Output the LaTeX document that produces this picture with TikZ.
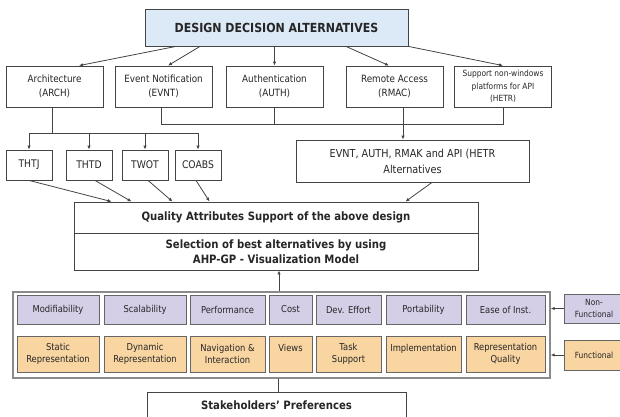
\documentclass[tikz,border=0pt]{standalone}
\usepackage{fontspec}
\setmainfont[FakeStretch=0.88]{DejaVu Sans}
\usetikzlibrary{arrows.meta}
\definecolor{hdblue}{HTML}{DCEAF7}
\definecolor{nfpurple}{HTML}{D5CEE7}
\definecolor{fnorange}{HTML}{F9D5A2}
\definecolor{lineg}{HTML}{444444}
\definecolor{panelg}{HTML}{8A8A8A}
\begin{document}
\begin{tikzpicture}[x=1pt,y=-1pt,
    box/.style = {draw=lineg, line width=0.8pt, inner sep=0pt, align=center, text=black!85},
    rowbox/.style = {box, minimum width=97pt, minimum height=41pt, font=\fontsize{10}{14}\selectfont},
    thbox/.style = {box, minimum width=46pt, minimum height=30pt, font=\fontsize{10.5}{13}\selectfont},
    qabox/.style = {box, draw=gray!80!black, minimum height=29pt, fill=nfpurple, font=\fontsize{9.5}{12}\selectfont},
    fnbox/.style = {box, draw=gray!80!black, minimum height=36pt, fill=fnorange, font=\fontsize{9.5}{12}\selectfont},
    arrow/.style = {line width=0.8pt, draw=lineg, -{Latex[length=4pt,width=3.4pt]}},
    link/.style = {line width=0.8pt, draw=lineg}]
  \path[use as bounding box, clip] (0,0) rectangle (620,416);

  % design decisions
  \node[box, fill=hdblue, minimum width=263pt, minimum height=37pt, font=\bfseries\fontsize{12.5}{15}\selectfont] (top) at (276.5,27.5) {DESIGN DECISION ALTERNATIVES};
  \node[rowbox] (arch) at (54.5,86.5) {Architecture\\(ARCH)};
  \node[rowbox] (evnt) at (163.5,86.5) {Event Notification\\(EVNT)};
  \node[rowbox] (auth) at (274.5,86.5) {Authentication\\(AUTH)};
  \node[rowbox] (rmac) at (394.5,86.5) {Remote Access\\(RMAC)};
  \node[rowbox, font=\fontsize{8.5}{12.5}\selectfont] (hetr) at (503,86.5) {Support non-windows\\platforms for API\\(HETR)};

  \draw[arrow] ([xshift=-100.5pt]top.south) -- ([xshift=24.5pt]arch.north);
  \draw[arrow] ([xshift=-76.5pt]top.south) -- ([xshift=4.5pt]evnt.north);
  \draw[arrow] (top.south -| auth.north) -- (auth.north);
  \draw[arrow] ([xshift=69.5pt]top.south) -- ([xshift=-5.5pt]rmac.north);
  \draw[arrow] (top.south east) -- (hetr.north);

  % architecture alternatives
  \node[thbox] (thtj) at (29,165) {THTJ};
  \node[thbox] (thtd) at (89,165) {THTD};
  \node[thbox] (twot) at (145,165) {TWOT};
  \node[thbox] (coabs) at (198,165) {COABS};
  \coordinate (archbus) at (52,133);
  \draw[link] ([xshift=-2.5pt]arch.south) -- (archbus);
  \draw[link] (archbus -| thtj) -- (archbus -| coabs);
  \foreach \n in {thtj,thtd,twot,coabs}
    \draw[arrow] (archbus -| \n) -- (\n.north);

  \node[box, minimum width=233pt, minimum height=42pt, font=\fontsize{11}{16}\selectfont] (alt) at (412.5,161) {EVNT, AUTH, RMAK and API (HETR\\Alternatives};
  \coordinate (altbus) at (161,124);
  \draw[link] ([xshift=-2.5pt]evnt.south) -- (altbus) -- (altbus -| hetr) -- (hetr.south);
  \draw[link] (auth.south) -- (auth.south |- altbus);
  \draw[arrow] ([xshift=8.5pt]rmac.south) -- ([xshift=8.5pt]rmac.south |- alt.north);

  % quality attributes and selection
  \node[box, minimum width=404pt, minimum height=31pt, font=\bfseries\fontsize{11.5}{14}\selectfont] (qas) at (276,217.5) {Quality Attributes Support of the above design};
  \node[box, minimum width=404pt, minimum height=37pt, font=\bfseries\fontsize{11.5}{14.5}\selectfont] (sel) at (276,251.5) {Selection of best alternatives by using\\AHP-GP - Visualization Model};
  \draw[arrow] (thtj.south) -- ([xshift=38pt]qas.north west);
  \draw[arrow] ([xshift=6pt]thtd.south) -- ([xshift=58pt]qas.north west);
  \draw[arrow] ([xshift=3pt]twot.south) -- ([xshift=99pt]qas.north west);
  \draw[arrow] ([xshift=-2pt]coabs.south) -- ([xshift=136pt]qas.north west);
  \draw[arrow] ([xshift=19.5pt]alt.south) -- ([xshift=-73pt]qas.north east);

  % criteria panel
  \node[draw=panelg, line width=1.4pt, minimum width=537pt, minimum height=86pt, inner sep=0pt] (panel) at (281.5,335) {};
  \foreach \cx/\w/\lbl [count=\i] in {58/82/Modifiability, 145/82/Scalability, 227.5/75/Performance, 290.5/43/Cost, 348.5/65/Dev. Effort, 423.5/75/Portability, 505.5/79/Ease of Inst.}
    \node[qabox, minimum width=\w] (q\i) at (\cx,309.5) {\lbl};
  \foreach \cx/\w/\lbl [count=\i] in {58/82/{Static\\Representation}, 145/82/{Dynamic\\Representation}, 227.5/75/{Navigation \&\\Interaction}, 290.5/43/{Views\\\mbox{}}, 348.5/65/{Task\\Support}, 423.5/75/{Implementation\\\mbox{}}, 505.5/79/{Representation\\Quality}}
    \node[fnbox, minimum width=\w] (f\i) at (\cx,354) {\lbl};

  \node[qabox, minimum width=60pt, font=\fontsize{8.5}{12}\selectfont] (nonf) at (594,308.5) {Non-\\Functional};
  \node[fnbox, minimum width=60pt, minimum height=30pt, font=\fontsize{8.5}{12}\selectfont] (func) at (594,355) {Functional};
  \draw[arrow] (nonf.west) -- (nonf.west -| panel.east);
  \draw[arrow] (func.west) -- (func.west -| panel.east);
  \draw[arrow] ([xshift=-2.5pt]panel.north) -- ([xshift=-2.5pt]panel.north |- sel.south);

  % stakeholders
  \node[box, minimum width=259pt, minimum height=26pt, font=\bfseries\fontsize{11.5}{14}\selectfont] (stake) at (276.5,405) {Stakeholders’ Preferences};
  \draw[link] ([xshift=-3pt]panel.south) -- ([xshift=-3pt]panel.south |- stake.north);
\end{tikzpicture}
\end{document}
